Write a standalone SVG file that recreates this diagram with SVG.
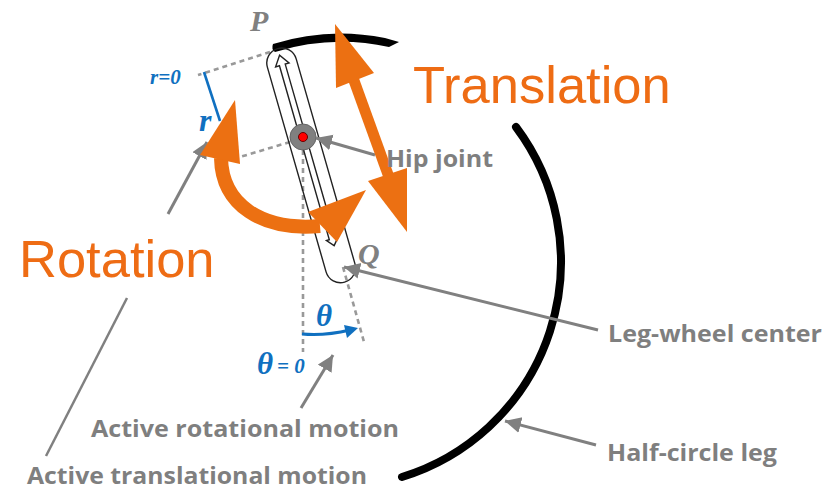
<svg xmlns="http://www.w3.org/2000/svg" width="837" height="491" viewBox="0 0 837 491">
<style>
.lab{font-family:"Open Sans","Liberation Sans",sans-serif;font-weight:700;font-size:23px;fill:#7f7f7f}
.big{font-family:"Liberation Sans",Arial,sans-serif;font-size:52.5px;fill:#ee6c14}
.ser{font-family:"Liberation Serif","Times New Roman",serif;font-weight:700;font-style:italic}
.blue{fill:#1070c0}
.gl{fill:none;stroke:#808080;stroke-width:3}
.dash{fill:none;stroke:#999;stroke-width:2.6;stroke-dasharray:5 4}
.or{fill:#ec7012}
.leg{fill:none;stroke:#000;stroke-width:8}
.thin{fill:none;stroke:#222;stroke-width:1.4}
</style>
<defs>
<marker id="ga" markerUnits="userSpaceOnUse" markerWidth="20" markerHeight="20" refX="16" refY="8" orient="auto"><path d="M0,0L16,8L0,16Z" fill="#808080"/></marker>
</defs>
<rect width="837" height="491" fill="#fff"/>
<g id="half-circle-leg">
<path d="M273,44A225,225 0 0 1 385,38L399,42L389,47A225,225 0 0 0 275,52Q271,49 273,44Z" fill="#000"/>
<path class="leg" d="M516,127A225,225 0 0 1 402,477" stroke-linecap="round"/>
</g>
<g id="guides">
<path class="dash" d="M270,52L198,75"/>
<path class="dash" d="M290,142L240,157"/>
<path class="dash" d="M303,150V352"/>
<path class="dash" d="M343,267L364,342"/>
</g>
<g id="leg-body" transform="rotate(-16 303 137)">
<rect class="thin" x="288" y="45" width="30" height="243" rx="15" fill="#fff"/>
<path class="thin" d="M300,62H296L303,52L310,62H306V243H309L303,250L297,243H300Z" fill="#fff"/>
</g>
<g id="hip-joint">
<circle cx="303" cy="137" r="13" fill="#808080" stroke="#666"/>
<circle cx="303" cy="137" r="4.5" fill="#f00" stroke="#600"/>
</g>
<g id="connectors">
<path d="M204,72L220,121" fill="none" stroke="#1070c0" stroke-width="2.6"/>
<path d="M302,334Q325,336 350,330" fill="none" stroke="#1070c0" stroke-width="3"/>
<path class="blue" d="M358,328L347,338L344,325Z"/>
<path class="gl" marker-end="url(#ga)" d="M375,155L316,138"/>
<path class="gl" marker-end="url(#ga)" d="M598,330L344,267"/>
<path class="gl" marker-end="url(#ga)" d="M596,445L505,421"/>
<path class="gl" marker-end="url(#ga)" d="M168,214L207,142"/>
<path class="gl" marker-end="url(#ga)" d="M301,408L333,355"/>
<path d="M46,456L127,298" fill="none" stroke="#808080" stroke-width="2.5"/>
</g>
<g id="rotation-arrow">
<path d="M221,158C222,205 262,231 320,226" fill="none" stroke="#ec7012" stroke-width="14"/>
<path class="or" d="M235,100L240,164L200,155Z"/>
<path class="or" d="M366,190L337,242L308,212Z"/>
</g>
<g id="translation-arrow">
<path d="M352,75L390,180" fill="none" stroke="#ec7012" stroke-width="11"/>
<path class="or" d="M335,24L374,73L336,88Z"/>
<path class="or" d="M407,232L368,181L407,168Z"/>
</g>
<g id="labels">
<text class="big" x="413" y="103">Translation</text>
<text class="big" x="19" y="277">Rotation</text>
<text class="ser" x="250" y="31" font-size="30" fill="#808080">P</text>
<text class="ser" x="358" y="264" font-size="30" fill="#808080">Q</text>
<text class="ser blue" x="150" y="84" font-size="21">r=0</text>
<text class="ser blue" x="199" y="131" font-size="32">r</text>
<text class="ser blue" x="316" y="326" font-size="31">θ</text>
<text class="ser blue" x="257" y="374" font-size="31">θ</text>
<text class="ser blue" x="277" y="373" font-size="21">= 0</text>
<text class="lab" x="386" y="167" textLength="107" lengthAdjust="spacingAndGlyphs">Hip joint</text>
<text class="lab" x="608" y="342" textLength="214" lengthAdjust="spacingAndGlyphs">Leg-wheel center</text>
<text class="lab" x="607" y="461" textLength="170" lengthAdjust="spacingAndGlyphs">Half-circle leg</text>
<text class="lab" x="91" y="437" textLength="308" lengthAdjust="spacingAndGlyphs">Active rotational motion</text>
<text class="lab" x="27" y="484" textLength="340" lengthAdjust="spacingAndGlyphs">Active translational motion</text>
</g>
</svg>
